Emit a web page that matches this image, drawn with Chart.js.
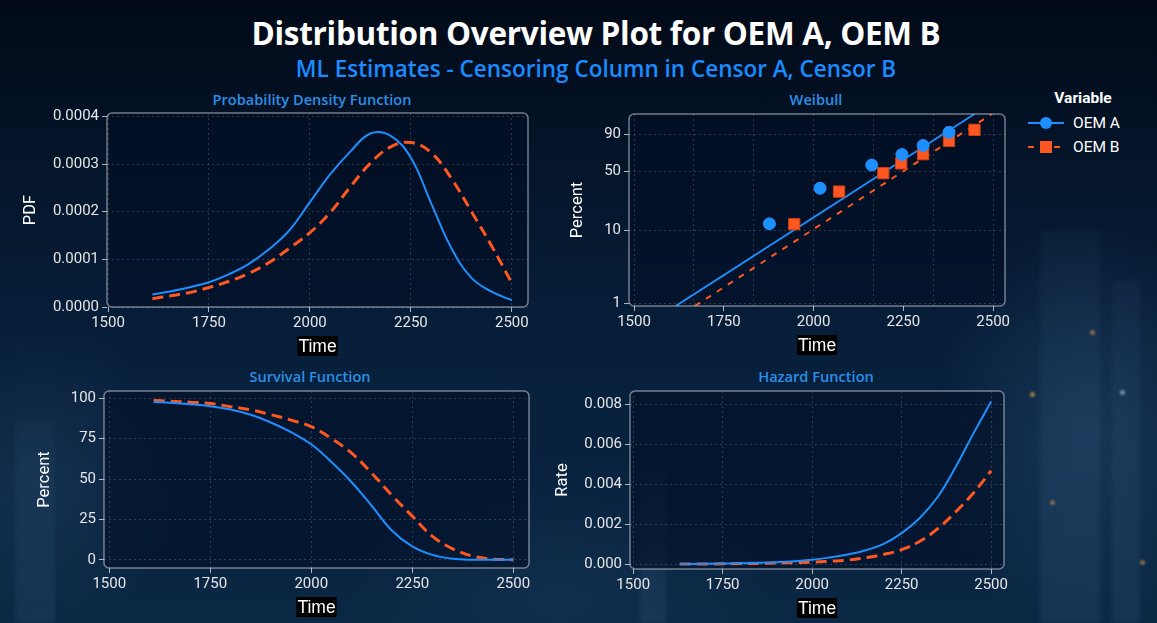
<!DOCTYPE html>
<html>
<head>
<meta charset="utf-8">
<title>Distribution Overview Plot for OEM A, OEM B</title>
<script src="https://cdn.jsdelivr.net/npm/chart.js@4.4.1/dist/chart.umd.min.js"></script>
<style>
  html, body { margin: 0; padding: 0; }
  body {
    width: 1157px; height: 623px; overflow: hidden; position: relative;
    font-family: Roboto, "Noto Sans", sans-serif;
    background:
      radial-gradient(ellipse 220px 300px at 1090px 430px, rgba(60,100,140,0.30), transparent 70%),
      radial-gradient(ellipse 200px 220px at 40px 480px, rgba(50,85,120,0.26), transparent 70%),
      radial-gradient(ellipse 300px 160px at 560px 600px, rgba(40,75,110,0.22), transparent 70%),
      linear-gradient(180deg, #020a17 0%, #041327 22%, #071f3b 55%, #0a2744 100%);
  }
  .tower { position: absolute; filter: blur(2px); background: linear-gradient(180deg, rgba(90,130,170,0.06), rgba(90,130,170,0.14)); }
  .light { position: absolute; width: 5px; height: 5px; border-radius: 50%; filter: blur(1px); }
  canvas { position: absolute; }
  #mainTitle {
    position: absolute; left: 596px; top: 13px; transform: translateX(-50%);
    white-space: nowrap; color: #ffffff; font-family: "Open Sans", sans-serif;
    font-weight: 700; font-size: 31.5px; line-height: 40px; letter-spacing: -0.3px;
  }
  #subTitle {
    position: absolute; left: 596px; top: 54px; transform: translateX(-50%);
    white-space: nowrap; color: #1a8cff; font-family: "Open Sans", sans-serif;
    font-weight: 600; font-size: 22.5px; line-height: 30px;
  }
  .panelTitle {
    position: absolute; transform: translate(-50%, -50%); white-space: nowrap;
    color: #2b8fe6; font-family: "Open Sans", sans-serif; font-weight: 600; font-size: 14.6px;
  }
  #legend { position: absolute; left: 1026px; top: 89px; color: #ffffff; font-family: Roboto, sans-serif; }
  #legend .head { font-weight: 700; font-size: 15.5px; text-align: center; width: 114px; margin-bottom: 4px; }
  #legend .row { display: flex; align-items: center; height: 24px; font-size: 15.5px; }
  #legend svg { margin-right: 9px; }
</style>
</head>
<body>
<div class="tower" style="left:1040px; top:230px; width:60px; height:393px;"></div>
<div class="tower" style="left:1112px; top:280px; width:28px; height:343px;"></div>
<div class="tower" style="left:15px; top:420px; width:40px; height:203px;"></div>
<div class="tower" style="left:640px; top:470px; width:26px; height:153px;"></div>
<div class="light" style="left:1030px; top:392px; background:rgba(255,170,80,0.6);"></div>
<div class="light" style="left:1090px; top:330px; background:rgba(255,170,80,0.5);"></div>
<div class="light" style="left:1120px; top:390px; background:rgba(180,230,255,0.5);"></div>
<div class="light" style="left:1140px; top:560px; background:rgba(255,170,80,0.5);"></div>
<div class="light" style="left:1050px; top:500px; background:rgba(255,170,80,0.45);"></div>

<div id="mainTitle">Distribution Overview Plot for OEM A, OEM B</div>
<div id="subTitle">ML Estimates - Censoring Column in Censor A, Censor B</div>

<div class="panelTitle" style="left:312px; top:99px;">Probability Density Function</div>
<div class="panelTitle" style="left:816px; top:99px;">Weibull</div>
<div class="panelTitle" style="left:310px; top:376px;">Survival Function</div>
<div class="panelTitle" style="left:816px; top:376px;">Hazard Function</div>

<div id="legend">
  <div class="head">Variable</div>
  <div class="row">
    <svg width="38" height="16"><line x1="2" y1="8" x2="38" y2="8" stroke="#1e8fff" stroke-width="2"/><circle cx="20" cy="8" r="6" fill="#1e8fff"/></svg>OEM A
  </div>
  <div class="row">
    <svg width="38" height="16"><line x1="2" y1="8" x2="38" y2="8" stroke="#ff5722" stroke-width="2" stroke-dasharray="6 7"/><rect x="14" y="2" width="12" height="12" fill="#ff5722"/></svg>OEM B
  </div>
</div>

<canvas id="pdfChart"></canvas>
<canvas id="wbChart"></canvas>
<canvas id="survChart"></canvas>
<canvas id="hazChart"></canvas>

<script>
// ---- data ----
const seriesNames = ['OEM A', 'OEM B'];

// probability density
const pdfTime = [1610, 1650, 1700, 1750, 1800, 1850, 1900, 1950, 2000, 2050, 2100, 2150, 2200, 2250, 2300, 2350, 2400, 2450, 2500];
const pdfA = [0.000026, 0.000032, 0.000041, 0.000052, 0.000069, 0.000091, 0.000122, 0.000162, 0.000220, 0.000278, 0.000326, 0.000364, 0.000359, 0.000313, 0.000218, 0.000124, 0.000061, 0.000032, 0.000014];
const pdfB = [0.0000175, 0.000023, 0.000030, 0.000041, 0.000054, 0.000071, 0.000094, 0.000124, 0.000156, 0.000198, 0.000252, 0.000302, 0.000336, 0.000345, 0.000324, 0.000270, 0.000200, 0.000128, 0.000050];

// survival (percent)
const survTime = pdfTime;
const survA = [97.7, 97.3, 96.3, 95.0, 93.0, 89.8, 85.0, 79.0, 71.5, 60.5, 48.0, 33.3, 18.0, 8.3, 3.0, 0.6, 0, 0, 0];
const survB = [98.6, 98.2, 97.6, 96.8, 94.8, 92.8, 89.8, 86.5, 82.4, 75.0, 66.0, 53.5, 39.8, 27.0, 14.5, 6.8, 2.2, 0.4, 0];

// hazard rate
const hazTime = [1630, 1700, 1750, 1800, 1850, 1900, 1950, 2000, 2050, 2100, 2150, 2200, 2250, 2300, 2350, 2400, 2450, 2500];
const hazA = [0, 0.00001, 0.00002, 0.00004, 0.00006, 0.00009, 0.00014, 0.00021, 0.00033, 0.00048, 0.00069, 0.00101, 0.00155, 0.00230, 0.00335, 0.00484, 0.00653, 0.00815];
const hazB = [0, 0, 0.00001, 0.00002, 0.00003, 0.00005, 0.00007, 0.00009, 0.00014, 0.00020, 0.00032, 0.00048, 0.00072, 0.00113, 0.00176, 0.00260, 0.00355, 0.00468];

// weibull probability plot: failure points (percent) and fitted lines
const wbTimeA = [1877, 2018, 2162, 2246, 2305, 2377];
const wbPctA = [12.2, 33.5, 57.6, 70.0, 80.0, 91.4];
const wbTimeB = [1946, 2071, 2194, 2244, 2305, 2377, 2448];
const wbPctB = [12.1, 30.7, 48.4, 59.6, 70.4, 84.5, 93.0];
const fitTimeA = [1617, 2448];
const fitTimeB = [1670, 2496];
const fitPct = [0.93, 98.8];
const wbTicks = [1, 10, 50, 90];

const timeTicks = [1500, 1750, 2000, 2250, 2500];

// ---- styling ----
const BLUE = '#1e8fff';
const ORANGE = '#ff5722';
Chart.defaults.font.family = 'Roboto, "Noto Sans", sans-serif';
Chart.defaults.color = '#e6e6e6';
Chart.defaults.animation = false;

const wb = p => Math.log(-Math.log(1 - p / 100));
const pts = (xs, ys) => xs.map((x, i) => ({ x: x, y: ys[i] }));

// rounded plot box + "Time" label with black background
const panelBox = {
  id: 'panelBox',
  beforeDraw(chart) {
    const a = chart.chartArea, ctx = chart.ctx;
    ctx.save();
    ctx.beginPath();
    ctx.roundRect(a.left, a.top, a.right - a.left, a.bottom - a.top, 5);
    ctx.fillStyle = 'rgba(2, 13, 34, 0.55)';
    ctx.fill();
    ctx.restore();
  },
  afterDraw(chart) {
    const a = chart.chartArea, ctx = chart.ctx;
    ctx.save();
    ctx.beginPath();
    ctx.roundRect(a.left, a.top, a.right - a.left, a.bottom - a.top, 5);
    ctx.strokeStyle = 'rgba(205, 210, 220, 0.55)';
    ctx.lineWidth = 1.5;
    ctx.stroke();

    const label = chart.options.plugins.panelBox.xLabel;
    ctx.font = '17.5px "Liberation Sans", Arial, sans-serif';
    const w = ctx.measureText(label).width;
    const cx = (a.left + a.right) / 2 + chart.options.plugins.panelBox.xShift;
    const cy = a.bottom + 39;
    ctx.fillStyle = '#000000';
    ctx.fillRect(cx - w / 2 - 1, cy - 10, w + 2, 20);
    ctx.fillStyle = '#ffffff';
    ctx.textAlign = 'center';
    ctx.textBaseline = 'middle';
    ctx.fillText(label, cx, cy + 1);
    ctx.restore();
  }
};

function place(id, left, top, width, height) {
  const c = document.getElementById(id);
  c.width = width; c.height = height;
  c.style.left = left + 'px'; c.style.top = top + 'px';
  c.style.width = width + 'px'; c.style.height = height + 'px';
  return c;
}

function xAxis(min, max, withGrid) {
  return {
    type: 'linear', min: min, max: max,
    afterFit: s => { s.height = 50; },
    afterBuildTicks: s => { s.ticks = timeTicks.map(v => ({ value: v })); },
    ticks: { font: { size: 15 }, padding: 2, maxRotation: 0, callback: v => String(v) },
    grid: { color: 'rgba(255,255,255,0.17)', drawOnChartArea: withGrid, tickLength: 5, tickColor: 'rgba(220,220,220,0.8)' },
    border: { display: false, dash: [2, 3] }
  };
}

function yAxis(width, title, titlePad, extra) {
  return Object.assign({
    type: 'linear',
    afterFit: s => { s.width = width; },
    ticks: { font: { size: 15 }, padding: 3, includeBounds: false },
    title: { display: true, text: title, color: '#ffffff', font: { size: 16.5 }, padding: { top: titlePad, bottom: 0 } },
    grid: { color: 'rgba(255,255,255,0.17)', tickLength: 5, tickColor: 'rgba(220,220,220,0.8)' },
    border: { display: false, dash: [2, 3] }
  }, extra);
}

function lineSet(label, data, color, dashed) {
  return {
    label: label, data: data, borderColor: color, backgroundColor: color,
    borderWidth: dashed ? 3 : 2, borderDash: dashed ? [11, 6] : [],
    pointRadius: 0, tension: 0.4, fill: false
  };
}

function baseOptions(pad) {
  return {
    responsive: false, animation: false,
    layout: { padding: pad },
    plugins: { legend: { display: false }, tooltip: { enabled: false }, panelBox: { xLabel: 'Time', xShift: 0 } }
  };
}

// ---- Probability Density Function ----
place('pdfChart', 0, 100, 545, 257);
new Chart('pdfChart', {
  type: 'line',
  data: { datasets: [lineSet(seriesNames[0], pts(pdfTime, pdfA), BLUE, false), lineSet(seriesNames[1], pts(pdfTime, pdfB), ORANGE, true)] },
  options: Object.assign(baseOptions({ top: 13, right: 17, bottom: 0, left: 0 }), {
    scales: {
      x: xAxis(1497.5, 2540, true),
      y: yAxis(107, 'PDF', 21, { min: 0, max: 0.000407, ticks: { font: { size: 15 }, padding: 3, includeBounds: false, stepSize: 0.0001, callback: v => v.toFixed(4) } })
    }
  }),
  plugins: [panelBox]
});

// ---- Weibull probability plot ----
place('wbChart', 560, 100, 460, 256);
new Chart('wbChart', {
  type: 'line',
  data: {
    datasets: [
      { label: seriesNames[0], data: pts(wbTimeA, wbPctA.map(wb)), showLine: false, pointStyle: 'circle', pointRadius: 6, pointBackgroundColor: BLUE, pointBorderColor: BLUE, order: 0 },
      { label: seriesNames[1], data: pts(wbTimeB, wbPctB.map(wb)), showLine: false, pointStyle: 'rect', pointRadius: 8, pointBackgroundColor: ORANGE, pointBorderColor: '#c9400f', pointBorderWidth: 1, order: 0 },
      Object.assign(lineSet(seriesNames[0] + ' fit', pts(fitTimeA, fitPct.map(wb)), BLUE, false), { borderWidth: 1.8, tension: 0, order: 1 }),
      Object.assign(lineSet(seriesNames[1] + ' fit', pts(fitTimeB, fitPct.map(wb)), ORANGE, true), { borderWidth: 2, tension: 0, borderDash: [6, 7], order: 1 })
    ]
  },
  options: Object.assign(baseOptions({ top: 14, right: 15, bottom: 0, left: 0 }), {
    scales: {
      x: xAxis(1486, 2533, false),
      xg: {
        type: 'linear', position: 'bottom', min: 1486, max: 2533,
        afterFit: s => { s.height = 0; },
        ticks: { display: false, stepSize: 1000 / 6, includeBounds: false },
        grid: { color: 'rgba(255,255,255,0.17)', drawTicks: false },
        border: { display: false, dash: [2, 3] }
      },
      y: yAxis(69, 'Percent', 8, {
        min: -4.677, max: 1.487,
        afterBuildTicks: s => { s.ticks = wbTicks.map(p => ({ value: wb(p) })); },
        ticks: { font: { size: 15 }, padding: 3, callback: (v, i) => String(wbTicks[i]) }
      })
    }
  }),
  plugins: [panelBox]
});

// ---- Survival Function ----
place('survChart', 0, 378, 545, 240);
new Chart('survChart', {
  type: 'line',
  data: { datasets: [lineSet(seriesNames[0], pts(survTime, survA), BLUE, false), lineSet(seriesNames[1], pts(survTime, survB), ORANGE, true)] },
  options: Object.assign(baseOptions({ top: 13, right: 16, bottom: 0, left: 0 }), {
    scales: {
      x: xAxis(1487, 2539, true),
      y: yAxis(104, 'Percent', 35, { min: -5.1, max: 104.5, ticks: { font: { size: 15 }, padding: 3, includeBounds: false, stepSize: 25 } })
    }
  }),
  plugins: [panelBox]
});

// ---- Hazard Function ----
place('hazChart', 545, 378, 475, 241);
new Chart('hazChart', {
  type: 'line',
  data: { datasets: [lineSet(seriesNames[0], pts(hazTime, hazA), BLUE, false), lineSet(seriesNames[1], pts(hazTime, hazB), ORANGE, true)] },
  options: Object.assign(baseOptions({ top: 13, right: 16, bottom: 0, left: 0 }), {
    scales: {
      x: xAxis(1491, 2536, true),
      y: yAxis(85, 'Rate', 8, { min: -0.00025, max: 0.00868, ticks: { font: { size: 15 }, padding: 3, includeBounds: false, stepSize: 0.002, callback: v => v.toFixed(3) } })
    }
  }),
  plugins: [panelBox]
});
</script>
</body>
</html>
